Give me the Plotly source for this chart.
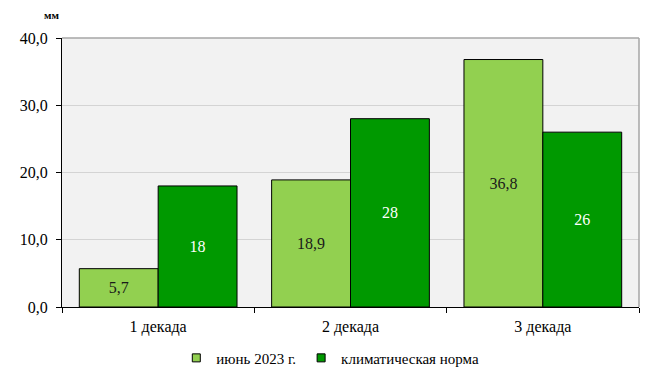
import plotly.graph_objects as go

categories = ["1 декада", "2 декада", "3 декада"]
june_2023 = [5.7, 18.9, 36.8]
climate_norm = [18, 28, 26]
y_ticks = [0, 10, 20, 30, 40]

font = "Liberation Serif"
light = "#92D050"
dark = "#009900"

fig = go.Figure()
fig.add_trace(go.Bar(
    x=categories, y=june_2023, name="июнь 2023 г.", showlegend=False,
    marker=dict(color=light, line=dict(color="black", width=1)),
    texttemplate="%{y:.1f}", textposition="inside", insidetextanchor="middle",
    textfont=dict(color="#1a1a1a", size=16, family=font),
))
fig.add_trace(go.Bar(
    x=categories, y=climate_norm, name="климатическая норма", showlegend=False,
    marker=dict(color=dark, line=dict(color="black", width=1)),
    texttemplate="%{y:.0f}", textposition="inside", insidetextanchor="middle",
    textfont=dict(color="white", size=16, family=font),
))
# legend entries with small square swatches
for name, col in [("июнь 2023 г.", light), ("климатическая норма", dark)]:
    fig.add_trace(go.Scatter(
        x=[None], y=[None], mode="markers", name=name,
        marker=dict(symbol="square", size=8, color=col, line=dict(color="black", width=1)),
    ))

fig.update_layout(
    width=649, height=374,
    margin=dict(l=62, r=10, t=38, b=67, autoexpand=False),
    paper_bgcolor="white", plot_bgcolor="#F2F2F2",
    separators=", ",
    barmode="group", bargap=0.18, bargroupgap=0,
    font=dict(family=font, size=16, color="black"),
    showlegend=True,
    legend=dict(orientation="h", x=0.465, xanchor="center", y=-0.19, yanchor="middle",
                font=dict(size=15, family=font), itemwidth=30, traceorder="normal",
                tracegroupgap=0, bgcolor="rgba(0,0,0,0)"),
    xaxis=dict(showline=True, linecolor="black", linewidth=1, ticks="outside",
               tickson="boundaries", ticklen=5, tickcolor="black", automargin=False,
               ticklabelstandoff=5,
               tickfont=dict(size=16, family=font), mirror=False),
    yaxis=dict(range=[0, 40], tickvals=y_ticks, tickformat=".1f", automargin=False,
               showline=True, linecolor="black", linewidth=1, ticks="outside",
               ticklen=5, tickcolor="black", gridcolor="#D4D4D4", gridwidth=1,
               ticklabelstandoff=5,
               tickfont=dict(size=16, family=font), zeroline=False),
    annotations=[dict(text="<b>мм</b>", x=-0.019, y=1.085, xref="paper", yref="paper",
                      xanchor="center", yanchor="middle",
                      showarrow=False, font=dict(size=11, family=font))],
)
# gray frame on top/right
fig.add_shape(type="line", xref="paper", yref="paper", x0=0, x1=1, y0=1, y1=1,
              line=dict(color="#A6A6A6", width=1.5))
fig.add_shape(type="line", xref="paper", yref="paper", x0=1, x1=1, y0=0, y1=1,
              line=dict(color="#A6A6A6", width=1.5))

fig.write_html("out.html", config={"displayModeBar": False},
               post_script="document.body.style.margin='0';")
